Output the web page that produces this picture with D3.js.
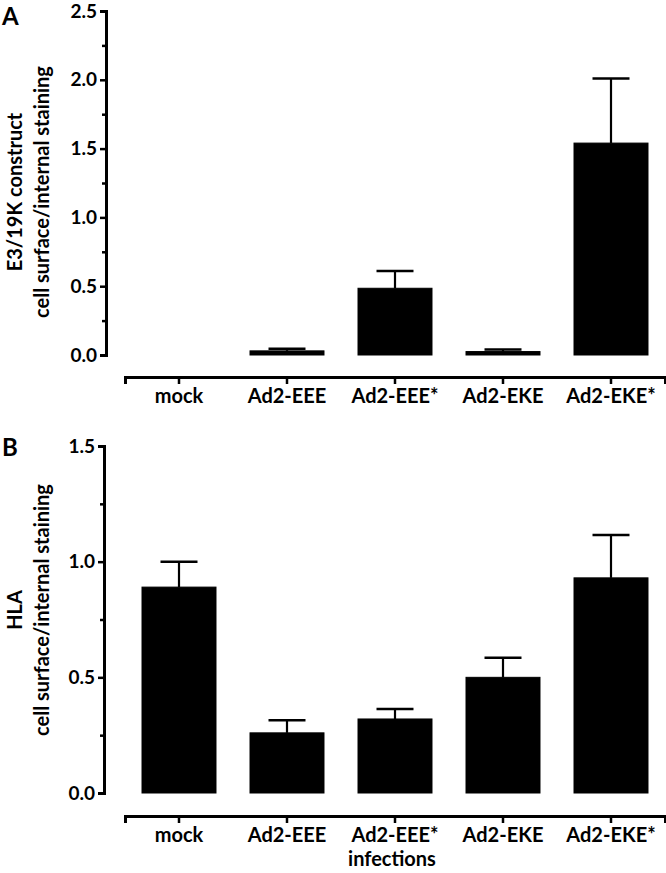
<!DOCTYPE html>
<html>
<head>
<meta charset="utf-8">
<script src="https://cdn.jsdelivr.net/npm/d3@7"></script>
<style>
  html, body { margin: 0; padding: 0; background: #fff; }
  svg { display: block; }
  text { font-family: Lato, "Open Sans", sans-serif; font-weight: bold; fill: #000; }
</style>
</head>
<body>
<svg id="chart" width="666" height="873"></svg>
<script>
// ---- data ----
const categories = ["mock", "Ad2-EEE", "Ad2-EEE*", "Ad2-EKE", "Ad2-EKE*"];
const valuesA = [0, 0.03, 0.485, 0.025, 1.54];
const errTopA = [0, 0.045, 0.61, 0.04, 2.01];
const valuesB = [0.89, 0.26, 0.32, 0.50, 0.93];
const errTopB = [1.0, 0.315, 0.363, 0.585, 1.115];
const ticksA = [0, 0.5, 1.0, 1.5, 2.0, 2.5];
const minorTicksA = [0.25, 0.75, 1.25, 1.75, 2.25];
const ticksB = [0, 0.5, 1.0, 1.5];
const minorTicksB = [0.25, 0.75, 1.25];
const yLabelA = ["E3/19K construct", "cell surface/internal staining"];
const yLabelB = ["HLA", "cell surface/internal staining"];
const xTitle = "infections";

// ---- layout ----
const svg = d3.select("#chart");
const x = d3.scaleBand().domain(categories).range([125, 665]);
const barFrac = 0.685;
const capFrac = 0.5;

function panel(opts) {
  const { values, errTop, ticks, minor, y, axisX, xAxisY, letter, letterY, labels, labelCY } = opts;
  const g = svg.append("g");

  // y axis (major)
  const yAxis = g.append("g").attr("transform", `translate(${axisX},0)`)
    .call(d3.axisLeft(y).tickValues(ticks).tickFormat(d3.format(".1f")).tickSizeOuter(0).tickSize(6).tickPadding(3));
  yAxis.select(".domain").attr("stroke-width", 3).attr("stroke", "#000");
  yAxis.selectAll(".tick line").attr("stroke-width", 2.5).attr("stroke", "#000");
  yAxis.selectAll(".tick text").style("font-size", "19px").attr("fill", "#000").attr("font-family", null);
  // minor ticks
  const yMinor = g.append("g").attr("transform", `translate(${axisX},0)`)
    .call(d3.axisLeft(y).tickValues(minor).tickFormat("").tickSize(4).tickSizeOuter(0));
  yMinor.select(".domain").remove();
  yMinor.selectAll(".tick line").attr("stroke-width", 2.5).attr("stroke", "#000");

  // x axis
  const xAxis = g.append("g").attr("transform", `translate(0,${xAxisY})`)
    .call(d3.axisBottom(x).tickSizeOuter(0).tickSize(7).tickPadding(5));
  xAxis.select(".domain").attr("stroke-width", 3).attr("stroke", "#000");
  xAxis.selectAll(".tick line").attr("stroke-width", 2.5).attr("stroke", "#000");
  xAxis.selectAll(".tick text").style("font-size", "20px").attr("fill", "#000").attr("font-family", null);

  const bw = x.bandwidth() * barFrac;
  const cw = x.bandwidth() * barFrac * capFrac;
  const data = categories.map((c, i) => ({ c, v: values[i], e: errTop[i] }));

  // error bars
  const eb = g.append("g").selectAll("g").data(data.filter(d => d.e > d.v)).join("g");
  eb.append("line")
    .attr("x1", d => x(d.c) + x.bandwidth() / 2).attr("x2", d => x(d.c) + x.bandwidth() / 2)
    .attr("y1", d => y(d.v)).attr("y2", d => y(d.e))
    .attr("stroke", "#000").attr("stroke-width", 2.2);
  eb.append("line")
    .attr("x1", d => x(d.c) + x.bandwidth() / 2 - cw / 2).attr("x2", d => x(d.c) + x.bandwidth() / 2 + cw / 2)
    .attr("y1", d => y(d.e)).attr("y2", d => y(d.e))
    .attr("stroke", "#000").attr("stroke-width", 2.5);

  // bars
  g.append("g").selectAll("rect").data(data.filter(d => d.v > 0)).join("rect")
    .attr("x", d => x(d.c) + (x.bandwidth() - bw) / 2)
    .attr("width", bw)
    .attr("y", d => y(d.v))
    .attr("height", d => y(0) - y(d.v))
    .attr("fill", "#000").attr("stroke", "#000").attr("stroke-width", 1);

  // panel letter
  g.append("text").attr("x", 2).attr("y", letterY).style("font-size", "24px").text(letter);

  // y label (two lines)
  const lx = [15, 42];
  labels.forEach((t, i) => {
    g.append("text")
      .attr("transform", `translate(${lx[i]},${labelCY}) rotate(-90)`)
      .attr("text-anchor", "middle").attr("dy", "0.35em")
      .style("font-size", "20px").text(t);
  });
}

panel({
  values: valuesA, errTop: errTopA, ticks: ticksA, minor: minorTicksA,
  y: d3.scaleLinear().domain([0, 2.5]).range([355, 11]),
  axisX: 106, xAxisY: 377, letter: "A", letterY: 25, labels: yLabelA, labelCY: 192
});
panel({
  values: valuesB, errTop: errTopB, ticks: ticksB, minor: minorTicksB,
  y: d3.scaleLinear().domain([0, 1.5]).range([793, 446]),
  axisX: 104, xAxisY: 816, letter: "B", letterY: 456, labels: yLabelB, labelCY: 610
});

svg.append("text").attr("x", x.range()[0] + (x.range()[1] - x.range()[0]) / 2 - 3).attr("y", 866)
  .attr("text-anchor", "middle").style("font-size", "20px").text(xTitle);
</script>
</body>
</html>
